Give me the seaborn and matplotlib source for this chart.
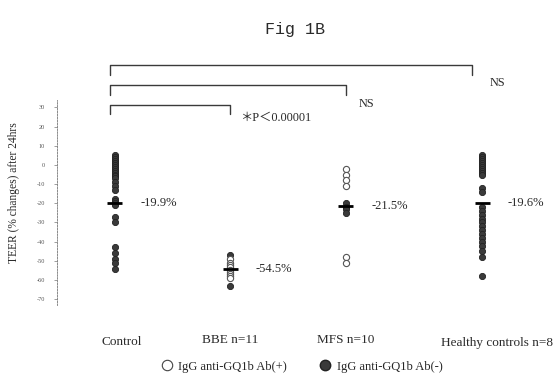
import matplotlib
matplotlib.use("Agg")
import matplotlib.pyplot as plt
from matplotlib.lines import Line2D
import seaborn as sns
import pandas as pd
import numpy as np

# ---- data -------------------------------------------------------------
groups = ["Control", "BBE n=11", "MFS n=10", "Healthy controls n=8"]

control_neg = [5, 4, 3, 2, 1, 0, -1, -2, -3, -4, -5, -6, -7,
               -9, -11, -13, -18, -19, -20, -21, -27, -30,
               -43, -46, -49, -51, -54]
control_pos = []

bbe_neg = [-47, -63]
bbe_pos = [-49, -51, -52, -53, -55, -56, -57, -58, -59]

mfs_neg = [-20, -22, -23, -25]
mfs_pos = [-2, -5, -8, -11, -48, -51]

healthy_neg = [5, 4, 3, 2, 1, 0, -1, -2, -3, -4, -5, -12, -14,
               -22, -24, -26, -28, -30, -32, -34, -36, -38, -40,
               -42, -45, -48, -58]
healthy_pos = []

means = [-19.9, -54.5, -21.5, -19.6]
mean_labels = ["-19.9%", "-54.5%", "-21.5%", "-19.6%"]

y_ticks = [30, 20, 10, 0, -10, -20, -30, -40, -50, -60, -70]

brackets = [("Control", "Healthy controls n=8", "NS"),
            ("Control", "MFS n=10", "NS"),
            ("Control", "BBE n=11", "＊P＜0.00001")]

# ---- layout -------------------------------------------------------------
xpos = {"Control": 1.0, "BBE n=11": 2.0, "MFS n=10": 3.0,
        "Healthy controls n=8": 4.18}

rows = []
for g, neg, pos in [("Control", control_neg, control_pos),
                    ("BBE n=11", bbe_neg, bbe_pos),
                    ("MFS n=10", mfs_neg, mfs_pos),
                    ("Healthy controls n=8", healthy_neg, healthy_pos)]:
    for v in neg:
        rows.append((g, xpos[g], v, "neg"))
    for v in pos:
        rows.append((g, xpos[g], v, "pos"))
df = pd.DataFrame(rows, columns=["group", "x", "value", "ab"])

sns.set_theme(style="white")
serif = ["Liberation Serif", "DejaVu Serif"]
plt.rcParams["font.family"] = serif

fig = plt.figure(figsize=(5.55, 3.82), dpi=100)
ax = fig.add_axes([0.1027, 0.2016, 0.8973, 0.5374])

ink = "#2a2a2a"

sns.scatterplot(data=df[df.ab == "neg"], x="x", y="value", ax=ax,
                color="#3a3a3a", edgecolor="#222222", linewidth=0.6,
                s=20, marker="o", zorder=3, legend=False)
sns.scatterplot(data=df[df.ab == "pos"], x="x", y="value", ax=ax,
                color="white", edgecolor="#555555", linewidth=0.8,
                s=20, marker="o", zorder=3, legend=False)

# mean bars and their labels
for g, m, lab in zip(groups, means, mean_labels):
    x = xpos[g]
    ax.plot([x - 0.065, x + 0.065], [m, m], color="black", lw=2.0,
            zorder=4, solid_capstyle="butt")
    ax.text(x + 0.22, m, lab, fontsize=9, ha="left", va="center",
            color=ink)

ax.set_xlim(0.498, 4.81)
ax.set_ylim(-73, 34)

# axis styling
for side in ["top", "right", "bottom"]:
    ax.spines[side].set_visible(False)
ax.spines["left"].set_linestyle((0, (2, 1.5)))
ax.spines["left"].set_linewidth(0.6)
ax.spines["left"].set_color("#777777")
ax.set_yticks(y_ticks)
ax.set_yticklabels([str(t) for t in y_ticks], fontsize=4.5, color="#555555")
ax.tick_params(axis="y", left=True, length=2.5, width=0.5,
               color="#777777", pad=6)
ax.set_xticks([])
ax.set_xlabel("")
ax.set_ylabel("TEER (% changes) after 24hrs", fontsize=8.3, color=ink)
ax.yaxis.set_label_coords(-0.075, 0.546)

# group labels below the axis
label_shift = {"Control": 0.06, "BBE n=11": 0.0, "MFS n=10": 0.0,
               "Healthy controls n=8": 0.13}
label_y = {"Control": -92.5, "BBE n=11": -91.5, "MFS n=10": -91.5,
           "Healthy controls n=8": -93}
for g in groups:
    ax.text(xpos[g] + label_shift[g], label_y[g], g, fontsize=9.5,
            ha="center", va="center", color=ink, clip_on=False)

# significance brackets
br_y = [52, 41.5, 31.3]
for (a, b, lab), y in zip(brackets, br_y):
    x0 = xpos[a] - 0.04
    x1 = xpos[b] - (0.09 if b.startswith("Healthy") else 0.0)
    ax.plot([x0, x0, x1, x1], [y - 5, y, y, y - 5], color="#3a3a3a",
            lw=1.0, clip_on=False)
for (a, b, lab), y, tx, ty in zip(brackets, br_y,
                                  [4.24, 3.11, 2.08], [42.5, 32, 24.5]):
    ax.text(tx, ty, lab, fontsize=8.8, ha="left", va="center",
            color=ink, clip_on=False,
            family=["Liberation Serif", "Noto Sans CJK JP"])

fig.text(0.532, 0.922, "Fig 1B", fontsize=12, ha="center", va="center",
         color=ink, family=["Liberation Mono", "DejaVu Sans Mono"])

handles = [Line2D([], [], marker="o", ls="", markerfacecolor="white",
                  markeredgecolor="#444444", markeredgewidth=0.8,
                  markersize=7.5),
           Line2D([], [], marker="o", ls="", markerfacecolor="#3a3a3a",
                  markeredgecolor="#222222", markersize=7.5)]
fig.legend(handles, ["IgG anti-GQ1b Ab(+)", "IgG anti-GQ1b Ab(-)"],
           loc="center", bbox_to_anchor=(0.543, 0.04), ncol=2,
           frameon=False, fontsize=9, handletextpad=0.4,
           columnspacing=2.6, handlelength=1.0)

fig.savefig("out.png", dpi=100, facecolor="white")
